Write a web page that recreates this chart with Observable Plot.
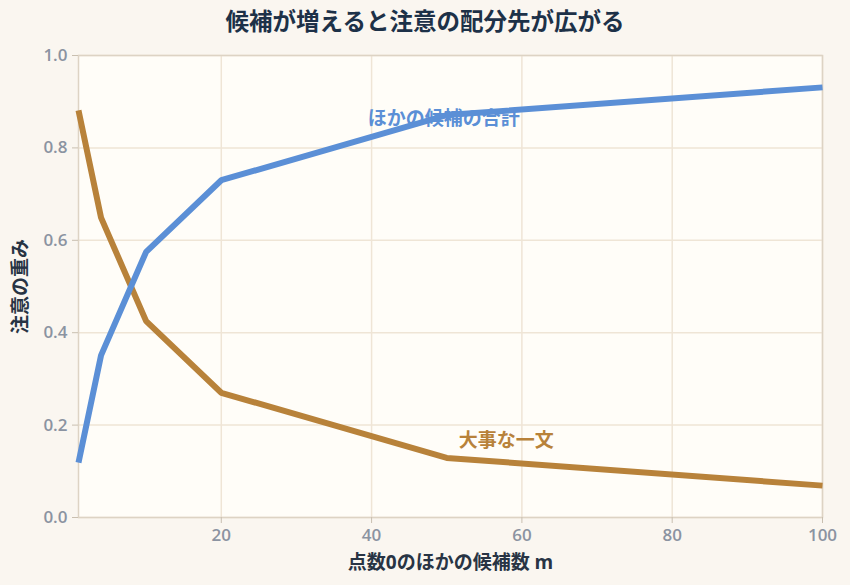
<!DOCTYPE html>
<html>
<head>
<meta charset="utf-8">
<script src="https://cdn.jsdelivr.net/npm/d3@7"></script>
<script src="https://cdn.jsdelivr.net/npm/@observablehq/plot@0.6"></script>
<style>
  html, body { margin: 0; padding: 0; background: #faf6f0; }
  body { width: 850px; height: 585px; overflow: hidden; font-family: "Open Sans", "Noto Sans CJK JP", sans-serif; }
  #title { height: 40px; line-height: 42px; text-align: center; font-size: 23.5px; font-weight: 700; color: #1d3148; }
  #chart svg { display: block; }
</style>
</head>
<body>
<div id="title">候補が増えると注意の配分先が広がる</div>
<div id="chart"></div>
<script>
const candidates = [1, 4, 10, 20, 50, 100];
const keySentence = [0.881, 0.649, 0.425, 0.270, 0.129, 0.069];
const othersTotal = [0.119, 0.351, 0.575, 0.730, 0.871, 0.931];
const seriesNames = ["大事な一文", "ほかの候補の合計"];
const seriesColors = ["#b8823a", "#5b8fd6"];
const xTicks = [20, 40, 60, 80, 100];
const yTicks = [0, 0.2, 0.4, 0.6, 0.8, 1.0];
const labelPos = [
  {name: "大事な一文", x: 51.6, y: 0.165},
  {name: "ほかの候補の合計", x: 39.5, y: 0.863}
];

const rows = [];
candidates.forEach((m, i) => {
  rows.push({m, w: keySentence[i], s: seriesNames[0]});
  rows.push({m, w: othersTotal[i], s: seriesNames[1]});
});

const font = "'Open Sans', 'Noto Sans CJK JP', sans-serif";

const chart = Plot.plot({
  width: 850,
  height: 545,
  marginTop: 15,
  marginBottom: 68,
  marginLeft: 78,
  marginRight: 28,
  style: {background: "transparent", fontFamily: font, fontSize: "16px", overflow: "visible"},
  x: {domain: [1, 100], ticks: xTicks, label: null},
  y: {domain: [0, 1], ticks: yTicks, tickFormat: d3.format(".1f"), label: null},
  color: {domain: seriesNames, range: seriesColors},
  marks: [
    Plot.frame({fill: "#fffdf8", stroke: null}),
    Plot.gridX(xTicks, {stroke: "#efe5d6", strokeOpacity: 1, strokeWidth: 1.5}),
    Plot.gridY(yTicks, {stroke: "#efe5d6", strokeOpacity: 1, strokeWidth: 1.5}),
    Plot.frame({stroke: "#ddd3c4", strokeWidth: 1.5}),
    Plot.axisX({ticks: xTicks, tickSize: 6, stroke: "#c9bfb0", fill: "#8b93a1", fontWeight: 600, fontSize: 17, tickPadding: 5, label: null}),
    Plot.axisY({ticks: yTicks, tickFormat: d3.format(".1f"), tickSize: 6, stroke: "#c9bfb0", fill: "#8b93a1", fontWeight: 600, fontSize: 17, tickPadding: 5, label: null}),
    Plot.line(rows, {x: "m", y: "w", z: "s", stroke: "s", strokeWidth: 6, strokeLinecap: "butt", strokeLinejoin: "miter"}),
    Plot.text(labelPos, {x: "x", y: "y", text: "name", fill: (d) => d.name, textAnchor: "start", fontSize: 19, fontWeight: 700}),
    Plot.text([0], {frameAnchor: "bottom", dy: 51, text: () => "点数0のほかの候補数 m", fill: "#283444", fontSize: 19, fontWeight: 700}),
    Plot.text([0], {frameAnchor: "left", textAnchor: "middle", dx: -58, rotate: -90, text: () => "注意の重み", fill: "#283444", fontSize: 19, fontWeight: 700})
  ]
});
document.getElementById("chart").appendChild(chart);
</script>
</body>
</html>
